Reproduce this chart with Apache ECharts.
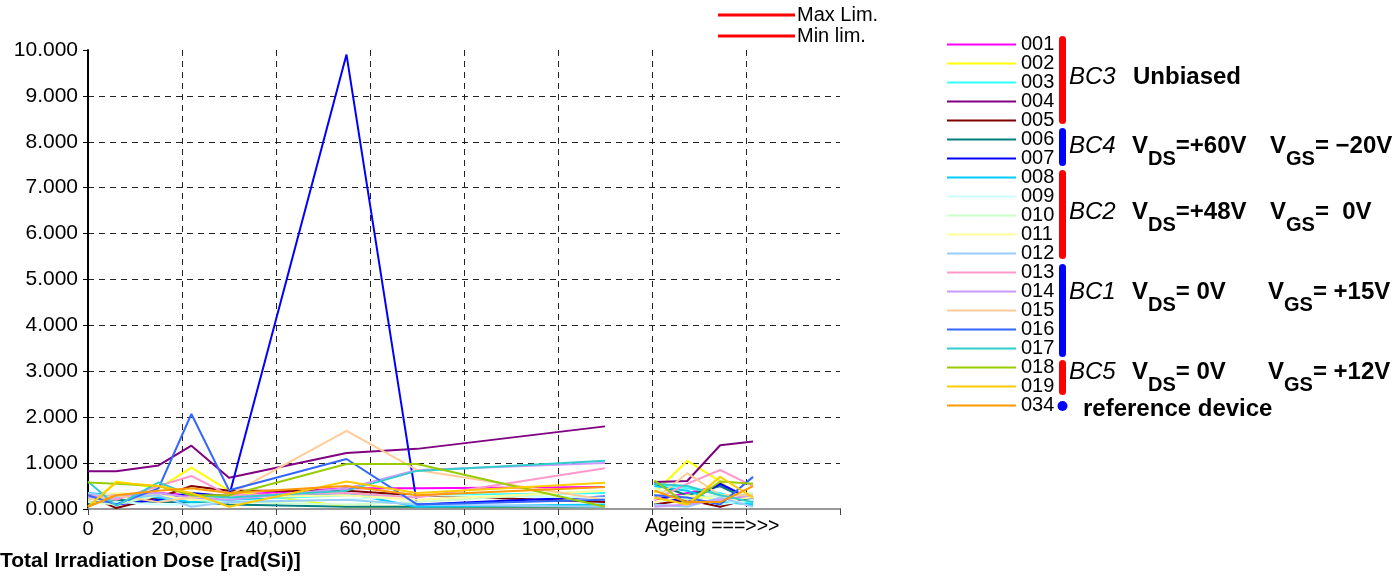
<!DOCTYPE html>
<html><head><meta charset="utf-8">
<script src="https://cdn.jsdelivr.net/npm/echarts@6/dist/echarts.min.js"></script>
<style>html,body{margin:0;padding:0;background:#fff}#c{width:1395px;height:577px}</style>
</head><body><div id="c"></div>
<script>
// ---- data ----
const doseIrr = [0, 6000, 15000, 22000, 30000, 55000, 70000, 110000];
const doseAge = [120500, 127500, 134500, 141500];
const deviceNames = ['001','002','003','004','005','006','007','008','009','010','011','012','013','014','015','016','017','018','019','034'];
const deviceColors = ['#FF00FF','#FFFF00','#33FFFF','#800080','#800000','#008080','#0000FF','#00CCFF','#CCFFFF','#CCFFCC','#FFFF99','#99CCFF','#FF99CC','#CC99FF','#FFCC99','#3366FF','#33CCCC','#99CC00','#FFCC00','#FF9900'];
const yTicks = [0,1,2,3,4,5,6,7,8,9,10];
const xTickLabels = ['0','20,000','40,000','60,000','80,000','100,000'];

const i001 = [0.30,0.25,0.35,0.30,0.30,0.45,0.45,0.48];
const i002 = [0.05,0.60,0.45,0.90,0.40,0.05,0.05,0.05];
const i003 = [0.25,0.15,0.20,0.10,0.20,0.30,0.30,0.35];
const i004 = [0.82,0.82,0.95,1.38,0.68,1.22,1.31,1.80];
const i005 = [0.30,0.02,0.25,0.50,0.40,0.40,0.30,0.15];
const i006 = [0.10,0.20,0.15,0.15,0.10,0.05,0.05,0.05];
const i007 = [0.20,0.10,0.20,0.35,0.28,9.90,0.10,0.27];
const i008 = [0.35,0.30,0.25,0.15,0.20,0.35,0.05,0.10];
const i009 = [0.20,0.15,0.10,0.10,0.15,0.20,0.30,0.25];
const i010 = [0.15,0.10,0.30,0.20,0.15,0.10,0.15,0.40];
const i011 = [0.25,0.35,0.30,0.20,0.25,0.30,0.20,0.40];
const i012 = [0.35,0.25,0.30,0.05,0.15,0.20,0.10,0.05];
const i013 = [0.30,0.20,0.50,0.72,0.30,0.35,0.25,0.89];
const i014 = [0.25,0.30,0.35,0.25,0.20,0.45,0.85,1.00];
const i015 = [0.20,0.30,0.15,0.25,0.30,1.70,0.85,0.20];
const i016 = [0.30,0.10,0.45,2.07,0.41,1.09,0.10,0.20];
const i017 = [0.60,0.07,0.58,0.30,0.25,0.40,0.83,1.05];
const i018 = [0.58,0.55,0.50,0.30,0.30,0.98,0.98,0.05];
const i019 = [0.05,0.58,0.50,0.35,0.05,0.60,0.35,0.57];
const i034 = [0.05,0.30,0.40,0.45,0.35,0.50,0.30,0.48];

const a001 = [0.20,0.35,0.50,0.20];
const a002 = [0.35,1.05,0.60,0.05];
const a003 = [0.55,0.45,0.35,0.10];
const a004 = [0.59,0.61,1.39,1.47];
const a005 = [0.10,0.20,0.05,0.25];
const a006 = [0.55,0.30,0.50,0.15];
const a007 = [0.30,0.15,0.55,0.20];
const a008 = [0.50,0.40,0.15,0.10];
const a009 = [0.30,0.25,0.10,0.20];
const a010 = [0.45,0.20,0.30,0.35];
const a011 = [0.15,0.30,0.20,0.25];
const a012 = [0.10,0.05,0.25,0.05];
const a013 = [0.20,0.55,0.85,0.50];
const a014 = [0.05,0.10,0.20,0.30];
const a015 = [0.20,0.78,0.30,0.30];
const a016 = [0.30,0.25,0.10,0.70];
const a017 = [0.55,0.50,0.30,0.15];
const a018 = [0.62,0.10,0.60,0.55];
const a019 = [0.25,0.10,0.70,0.25];
const a034 = [0.40,0.15,0.15,0.50];

const irrSets = [i001,i002,i003,i004,i005,i006,i007,i008,i009,i010,i011,i012,i013,i014,i015,i016,i017,i018,i019,i034];
const ageSets = [a001,a002,a003,a004,a005,a006,a007,a008,a009,a010,a011,a012,a013,a014,a015,a016,a017,a018,a019,a034];

// ---- chart ----
const FONT = 'Liberation Sans, Arial, sans-serif';
const chart = echarts.init(document.getElementById('c'));

const series = deviceNames.map((n, k) => ({
  name: n, type: 'line', symbol: 'none', showSymbol: false, connectNulls: false,
  color: deviceColors[k],
  lineStyle: { width: 2, color: deviceColors[k] },
  animation: false,
  data: doseIrr.map((d, i) => [d, irrSets[k][i]])
        .concat([[(doseIrr[doseIrr.length-1] + doseAge[0]) / 2, '-']])
        .concat(doseAge.map((d, i) => [d, ageSets[k][i]]))
}));
series.push({ name: 'Max Lim.', type: 'line', symbol: 'none', color: '#FF0000', lineStyle: { width: 3, color: '#FF0000' }, data: [] });
series.push({ name: 'Min lim.', type: 'line', symbol: 'none', color: '#FF0000', lineStyle: { width: 3, color: '#FF0000' }, data: [] });

function subLabel(x, yc, parts) {
  return {
    type: 'text', left: x, top: yc - 13,
    style: {
      text: parts, fill: '#000', font: 'bold 24px ' + FONT,
      rich: {
        n: { fontSize: 24, fontWeight: 'bold', fontFamily: FONT, lineHeight: 26, verticalAlign: 'top', color: '#000' },
        s: { fontSize: 20, fontWeight: 'bold', fontFamily: FONT, lineHeight: 18, padding: [15, 0, 0, 0], verticalAlign: 'top', color: '#000' }
      }
    }
  };
}
function bcLabel(x, yc, t) {
  return { type: 'text', left: x, top: yc - 13, style: { text: t, fill: '#000', font: 'italic 24px ' + FONT } };
}
function bar(y0, y1, color) {
  return { type: 'rect', shape: { x: 1059, y: y0, width: 7, height: y1 - y0, r: 3.5 }, style: { fill: color } };
}

const graphic = [
  bar(36, 124, '#FF0000'), bar(128, 166, '#0000FF'), bar(170, 259, '#FF0000'),
  bar(264, 357, '#0000FF'), bar(360, 395, '#FF0000'),
  { type: 'circle', shape: { cx: 1062.5, cy: 406, r: 5 }, style: { fill: '#0000FF' } },
  bcLabel(1069, 78, 'BC3'),
  { type: 'text', left: 1133, top: 65, style: { text: 'Unbiased', fill: '#000', font: 'bold 24px ' + FONT } },
  bcLabel(1069, 147, 'BC4'),
  subLabel(1132, 147, '{n|V}{s|DS}{n|=+60V}'),
  subLabel(1270, 147, '{n|V}{s|GS}{n|= \u221220V}'),
  bcLabel(1069, 213, 'BC2'),
  subLabel(1132, 213, '{n|V}{s|DS}{n|=+48V}'),
  subLabel(1270, 213, '{n|V}{s|GS}{n|=  0V}'),
  bcLabel(1069, 293, 'BC1'),
  subLabel(1132, 293, '{n|V}{s|DS}{n|= 0V}'),
  subLabel(1268, 293, '{n|V}{s|GS}{n|= +15V}'),
  bcLabel(1069, 373, 'BC5'),
  subLabel(1132, 373, '{n|V}{s|DS}{n|= 0V}'),
  subLabel(1268, 373, '{n|V}{s|GS}{n|= +12V}'),
  { type: 'text', left: 1083, top: 397, style: { text: 'reference device', fill: '#000', font: 'bold 24px ' + FONT } },
  { type: 'text', left: 645, top: 517, style: { text: 'Ageing ===>>>', fill: '#000', font: '19.5px ' + FONT } }
];

const option = {
  animation: false,
  backgroundColor: '#fff',
  title: { text: 'Total Irradiation Dose [rad(Si)]', left: 0, top: 551, padding: 0,
    textStyle: { fontFamily: FONT, fontSize: 21, fontWeight: 'bold', color: '#000' } },
  grid: { left: 88, top: 50, right: 555, bottom: 68, containLabel: false },
  legend: [
    { data: deviceNames, orient: 'vertical', left: 947, top: 34.5, itemWidth: 69, itemHeight: 2,
      icon: 'rect', itemGap: -1, padding: 0,
      textStyle: { fontFamily: FONT, fontSize: 20, lineHeight: 19, color: '#000' } },
    { data: ['Max Lim.', 'Min lim.'], orient: 'vertical', left: 718, top: 4.5, itemWidth: 77, itemHeight: 3,
      icon: 'rect', itemGap: 0, padding: 0,
      textStyle: { fontFamily: FONT, fontSize: 20, lineHeight: 21, color: '#000', padding: [0,0,0,-3] } }
  ],
  xAxis: [
    { type: 'value', min: 0, max: 160000, interval: 20000,
      axisLine: { show: true, onZero: false, lineStyle: { color: '#000', width: 2 } },
      axisTick: { show: true, length: 6, lineStyle: { color: '#444', width: 1 } },
      axisLabel: { fontFamily: FONT, fontSize: 20, color: '#000', margin: 10,
        formatter: v => { const i = Math.round(v / 20000); return i < xTickLabels.length ? xTickLabels[i] : ''; } },
      splitLine: { show: true, showMaxLine: false, lineStyle: { color: '#222', type: [6, 5], width: 1 } } },
    { type: 'value', position: 'top', min: 0, max: 160000, interval: 20000,
      axisLine: { show: true, lineStyle: { color: '#999', width: 2 } },
      axisTick: { show: false }, axisLabel: { show: false }, splitLine: { show: false } }
  ],
  yAxis: {
    type: 'value', min: yTicks[0], max: yTicks[yTicks.length-1], interval: 1,
    axisLine: { show: true, lineStyle: { color: '#000', width: 2 } },
    axisTick: { show: true, length: 5, lineStyle: { color: '#000' } },
    axisLabel: { fontFamily: FONT, fontSize: 21, color: '#000', margin: 10, formatter: v => v.toFixed(3) },
    splitLine: { show: true, showMaxLine: false, lineStyle: { color: '#222', type: [6, 5], width: 1 } }
  },
  graphic: graphic,
  series: series
};
chart.setOption(option);
</script>
</body></html>
